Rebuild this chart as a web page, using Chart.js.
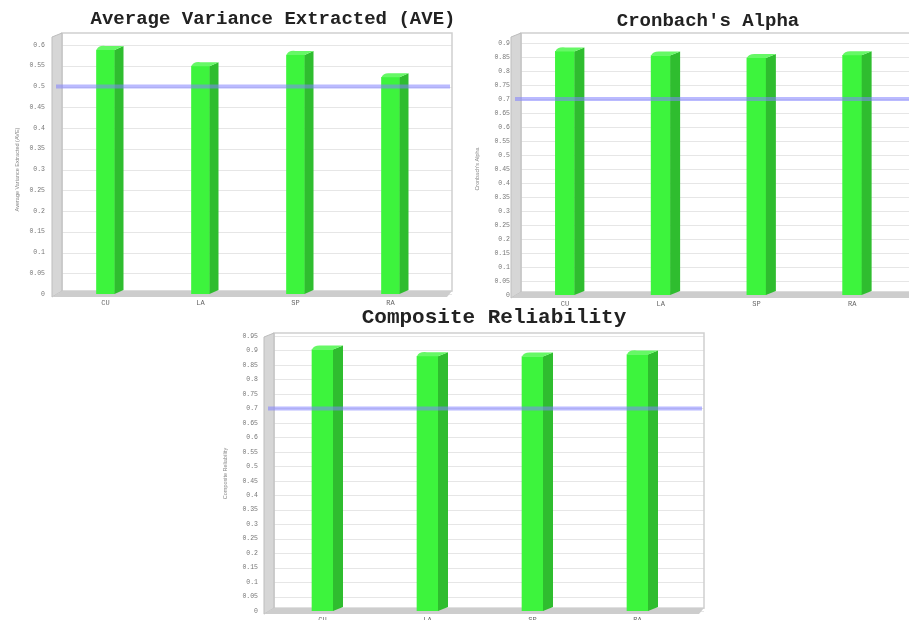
<!DOCTYPE html>
<html>
<head>
<meta charset="utf-8">
<title>Reliability and validity measures</title>
<script src="https://cdn.jsdelivr.net/npm/chart.js@4.4.1/dist/chart.umd.min.js"></script>
<style>
  html, body { margin: 0; padding: 0; background: #ffffff; }
  body { position: relative; width: 909px; height: 627px; overflow: hidden; }
  canvas { position: absolute; }
</style>
</head>
<body>
<canvas id="aveChart" width="458" height="312" style="left:0px;top:0px"></canvas>
<canvas id="alphaChart" width="454" height="312" style="left:455px;top:0px"></canvas>
<canvas id="crChart" width="500" height="322" style="left:210px;top:305px"></canvas>
<script>
// Constructs measured in the study
const categories = ['CU', 'LA', 'SP', 'RA'];

// Average Variance Extracted per construct
const aveValues = [0.588, 0.549, 0.576, 0.522];
// Cronbach's Alpha per construct
const alphaValues = [0.870, 0.855, 0.846, 0.856];
// Composite Reliability per construct
const crValues = [0.903, 0.880, 0.879, 0.886];

// Recommended minimum for each measure
const aveThreshold = 0.5;
const alphaThreshold = 0.7;
const crThreshold = 0.7;

// Value-axis ranges (ticks every 0.05)
const tickStep = 0.05;
const aveAxisMax = 0.6;
const alphaAxisMax = 0.9;
const crAxisMax = 0.95;

const FRONT = '#3df43d';
const SIDE = '#2fbd2f';
const TOP = '#66f866';

// Grey 3-D box: back wall, left wall, floor and horizontal grid lines
const frame3d = {
  id: 'frame3d',
  beforeDatasetsDraw(chart, args, o) {
    const { ctx, chartArea: a } = chart;
    const ys = chart.scales.y;
    const L = a.left + 4, R = a.right + o.extraRight, T = a.top - o.extraTop, B = a.bottom - 3;
    ctx.save();
    // grid lines on the back wall
    ctx.strokeStyle = '#e6e6e6';
    ctx.lineWidth = 1;
    ys.ticks.forEach(t => {
      const py = Math.round(ys.getPixelForValue(t.value)) + 0.5;
      ctx.beginPath(); ctx.moveTo(L, py); ctx.lineTo(R, py); ctx.stroke();
    });
    // back wall outline
    ctx.strokeStyle = '#cfcfcf';
    ctx.lineWidth = 1.5;
    ctx.strokeRect(L, T, R - L, B - T);
    // left wall
    ctx.fillStyle = '#d6d6d6';
    ctx.beginPath();
    ctx.moveTo(a.left - 6, T + 4);
    ctx.lineTo(L, T);
    ctx.lineTo(L, B);
    ctx.lineTo(a.left - 6, a.bottom + 3);
    ctx.closePath(); ctx.fill();
    ctx.strokeStyle = '#bdbdbd'; ctx.lineWidth = 1; ctx.stroke();
    // floor
    ctx.fillStyle = '#cdcdcd';
    ctx.beginPath();
    ctx.moveTo(a.left - 6, a.bottom + 3);
    ctx.lineTo(L, B);
    ctx.lineTo(R, B);
    ctx.lineTo(R - 5, a.bottom + 3);
    ctx.closePath(); ctx.fill();
    ctx.restore();
  }
};

// Side and top faces of each bar, then the threshold line over them
const bars3d = {
  id: 'bars3d',
  afterDatasetsDraw(chart, args, o) {
    const { ctx, chartArea: a } = chart;
    const d = o.depth, dy = o.rise;
    ctx.save();
    chart.getDatasetMeta(0).data.forEach(bar => {
      const { x, y, base, width } = bar.getProps(['x', 'y', 'base', 'width'], true);
      const l = x - width / 2, r = x + width / 2;
      ctx.fillStyle = SIDE;
      ctx.beginPath();
      ctx.moveTo(r, y); ctx.lineTo(r + d, y - dy); ctx.lineTo(r + d, base - dy); ctx.lineTo(r, base);
      ctx.closePath(); ctx.fill();
      ctx.fillStyle = TOP;
      ctx.beginPath();
      ctx.moveTo(l, y); ctx.quadraticCurveTo(l + 2, y - dy - 1, l + d, y - dy);
      ctx.lineTo(r + d, y - dy); ctx.lineTo(r, y);
      ctx.closePath(); ctx.fill();
    });
    const ty = chart.scales.y.getPixelForValue(o.threshold);
    ctx.strokeStyle = 'rgba(130,130,255,0.55)';
    ctx.lineWidth = 4;
    ctx.beginPath();
    ctx.moveTo(a.left - 2, ty);
    ctx.lineTo(a.right + o.lineExtra, ty);
    ctx.stroke();
    ctx.restore();
  }
};

// Chart heading drawn above the box
const heading = {
  id: 'heading',
  afterDraw(chart, args, o) {
    const { ctx } = chart;
    ctx.save();
    ctx.font = 'bold ' + o.size + 'px "Liberation Mono", "DejaVu Sans Mono", monospace';
    ctx.fillStyle = '#222';
    ctx.textAlign = 'center';
    ctx.textBaseline = 'middle';
    ctx.fillText(o.text, o.cx, o.cy);
    ctx.restore();
  }
};

// 0, 0.05, 0.1, 0.15 ... (no trailing zeros)
const shortTick = v => String(Number(v.toFixed(2)));

function buildChart(id, s) {
  return new Chart(document.getElementById(id), {
    type: 'bar',
    data: {
      labels: categories,
      datasets: [{
        label: s.yTitle,
        data: s.values,
        backgroundColor: FRONT,
        borderWidth: 0,
        barThickness: s.barWidth
      }]
    },
    options: {
      responsive: false,
      animation: false,
      layout: { padding: s.padding },
      plugins: {
        legend: { display: false },
        title: { display: false },
        tooltip: { enabled: false },
        heading: { text: s.title, cx: s.titleX, cy: s.titleY, size: s.titleSize },
        frame3d: { extraRight: s.extraRight, extraTop: s.extraTop },
        bars3d: { depth: s.depth, rise: 4, threshold: s.threshold, lineExtra: s.extraRight - 2 }
      },
      scales: {
        x: {
          grid: { display: false, drawTicks: false },
          border: { display: false },
          ticks: { color: '#666', padding: s.xPad, autoSkip: false, maxRotation: 0,
                   font: { family: 'Liberation Mono', size: 7 } },
          afterFit: sc => { sc.height = s.xHeight; }
        },
        y: {
          min: 0,
          max: s.max,
          grid: { display: false, drawTicks: false },
          border: { display: false },
          ticks: {
            stepSize: tickStep,
            color: '#777',
            padding: s.yPad,
            callback: shortTick,
            font: { family: 'Liberation Mono', size: 6.5 }
          },
          title: {
            display: true,
            text: s.yTitle,
            color: '#888',
            font: { family: 'Liberation Sans', size: 5.5 },
            padding: { top: 4, bottom: 0 }
          },
          afterFit: sc => { sc.width = s.yWidth; }
        }
      }
    },
    plugins: [frame3d, bars3d, heading]
  });
}

buildChart('aveChart', {
  title: 'Average Variance Extracted (AVE)',
  yTitle: 'Average Variance Extracted (AVE)',
  values: aveValues, max: aveAxisMax, threshold: aveThreshold,
  padding: { left: 10, right: 20, top: 45, bottom: 4 },
  yWidth: 48, yPad: 13, xHeight: 14, xPad: 5,
  barWidth: 18, depth: 9, extraRight: 14, extraTop: 12,
  titleX: 273, titleY: 19.5, titleSize: 19
});

buildChart('alphaChart', {
  title: "Cronbach's Alpha",
  yTitle: "Cronbach's Alpha",
  values: alphaValues, max: alphaAxisMax, threshold: alphaThreshold,
  padding: { left: 15, right: 9, top: 43, bottom: 4 },
  yWidth: 47, yPad: 7, xHeight: 13, xPad: 5,
  barWidth: 19, depth: 10, extraRight: 14, extraTop: 10,
  titleX: 253, titleY: 21.5, titleSize: 19
});

buildChart('crChart', {
  title: 'Composite Reliability',
  yTitle: 'Composite Reliability',
  values: crValues, max: crAxisMax, threshold: crThreshold,
  padding: { left: 8, right: 20, top: 31, bottom: 0 },
  yWidth: 52, yPad: 12, xHeight: 9, xPad: 5,
  barWidth: 21, depth: 10, extraRight: 14, extraTop: 3,
  titleX: 284, titleY: 13, titleSize: 21
});
</script>
</body>
</html>
